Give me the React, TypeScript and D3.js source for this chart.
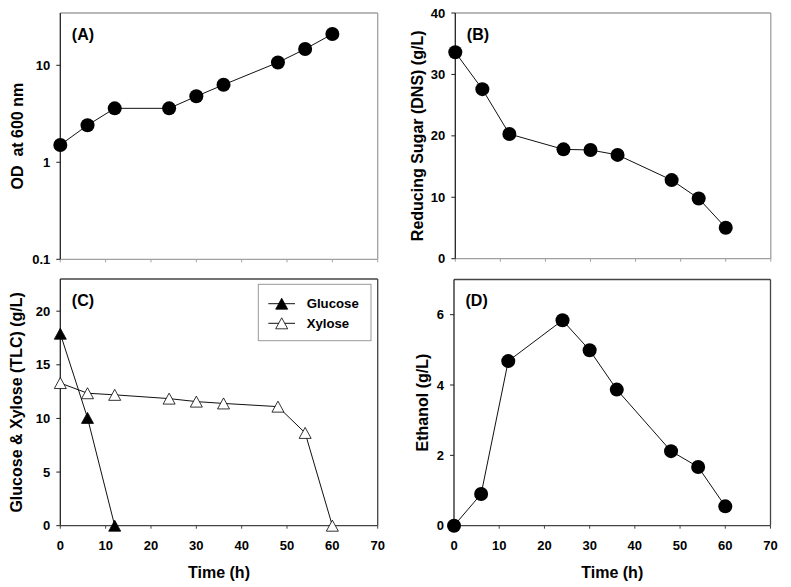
import React from "react";
import * as d3 from "d3";

const time = [0, 6, 12, 24, 30, 36, 48, 54, 60];
const od600 = [1.51, 2.41, 3.6, 3.6, 4.79, 6.3, 10.7, 14.7, 21];
const reducingSugar = [33.6, 27.6, 20.3, 17.8, 17.7, 16.9, 12.8, 9.8, 5.05];
const glucoseTime = [0, 6, 12];
const glucose = [17.9, 10.05, 0];
const xylose = [13.3, 12.35, 12.2, 11.85, 11.57, 11.4, 11.1, 8.65, 0];
const ethanol = [0, 0.9, 4.68, 5.84, 4.99, 3.87, 2.12, 1.67, 0.55];

const xTicks = [0, 10, 20, 30, 40, 50, 60, 70];
const odTicks = [0.1, 1, 10];
const sugarTicks = [0, 10, 20, 30, 40];
const tlcTicks = [0, 5, 10, 15, 20];
const ethanolTicks = [0, 2, 4, 6];

const FONT = "'Liberation Sans', Arial, sans-serif";

type PanelProps = {
  left: number;
  right: number;
  top: number;
  bottom: number;
  y: any;
  yTicks: number[];
  yLabel: string;
  yLabelX: number;
  panelLabel: string;
  showXLabels: boolean;
  axisDark: boolean;
  children: (x: any, y: any) => React.ReactNode;
};

function Panel(p: PanelProps) {
  const x = d3.scaleLinear().domain([0, 70]).range([p.left, p.right]);
  const y = p.y.range([p.bottom, p.top]);
  const leftCol = "#222";
  const otherCol = p.axisDark ? "#444" : "#a0a0a0";
  const cy = (p.top + p.bottom) / 2;
  return (
    <g>
      <line x1={p.left} x2={p.right} y1={p.top} y2={p.top} stroke={otherCol} strokeWidth={1.3} />
      <line x1={p.right} x2={p.right} y1={p.top} y2={p.bottom} stroke={otherCol} strokeWidth={1.3} />
      <line x1={p.left} x2={p.right} y1={p.bottom} y2={p.bottom} stroke={otherCol} strokeWidth={1.3} />
      <line x1={p.left} x2={p.left} y1={p.top} y2={p.bottom} stroke={leftCol} strokeWidth={1.3} />
      {xTicks.map((t) => (
        <g key={"xt" + t}>
          <line x1={x(t)} x2={x(t)} y1={p.bottom} y2={p.bottom + 3} stroke={otherCol} strokeWidth={1} />
          {p.showXLabels && (
            <text x={x(t)} y={p.bottom + 24.5} textAnchor="middle" fontFamily={FONT} fontWeight="bold" fontSize={13}>
              {t}
            </text>
          )}
        </g>
      ))}
      {p.yTicks.map((t) => (
        <g key={"yt" + t}>
          <line x1={p.left - 4} x2={p.left} y1={y(t)} y2={y(t)} stroke={leftCol} strokeWidth={1} />
          <text x={p.left - 10} y={y(t) + 4.6} textAnchor="end" fontFamily={FONT} fontWeight="bold" fontSize={13}>
            {t}
          </text>
        </g>
      ))}
      <text
        transform={`translate(${p.yLabelX},${cy}) rotate(-90)`}
        textAnchor="middle"
        dy="0.36em"
        fontFamily={FONT}
        fontWeight="bold"
        fontSize={16}
        style={{ whiteSpace: "pre" }}
      >
        {p.yLabel}
      </text>
      <text x={p.left + 11.5} y={p.top + 26.5} fontFamily={FONT} fontWeight="bold" fontSize={16}>
        {p.panelLabel}
      </text>
      {p.showXLabels && (
        <text x={(p.left + p.right) / 2} y={p.bottom + 52.5} textAnchor="middle" fontFamily={FONT} fontWeight="bold" fontSize={16}>
          Time (h)
        </text>
      )}
      {p.children(x, y)}
    </g>
  );
}

function triPath(w: number, h: number) {
  return `M0,${-h / 2}L${w / 2},${h / 2}L${-w / 2},${h / 2}Z`;
}

function CircleSeries({ x, y, xs, ys }: any) {
  const line = d3
    .line<number>()
    .x((_, i) => x(xs[i]))
    .y((d) => y(d));
  return (
    <g>
      <path d={line(ys) || ""} fill="none" stroke="#111" strokeWidth={1} />
      {ys.map((v: number, i: number) => (
        <circle key={i} cx={x(xs[i])} cy={y(v)} r={7} fill="#000" />
      ))}
    </g>
  );
}

function TriSeries({ x, y, xs, ys, filled }: any) {
  const line = d3
    .line<number>()
    .x((_, i) => x(xs[i]))
    .y((d) => y(d));
  return (
    <g>
      <path d={line(ys) || ""} fill="none" stroke="#111" strokeWidth={1} />
      {ys.map((v: number, i: number) => (
        <path
          key={i}
          d={triPath(12, 11)}
          transform={`translate(${x(xs[i])},${y(v)})`}
          fill={filled ? "#000" : "#fff"}
          stroke="#000"
          strokeWidth={0.8}
        />
      ))}
    </g>
  );
}

export default function App() {
  return (
    <div style={{ position: "fixed", left: 0, top: 0 }}>
      <svg width={791} height={587} style={{ display: "block", background: "#fff" }}>
        <rect width={791} height={587} fill="#fff" />
        <Panel
          left={60.3}
          right={377.7}
          top={13}
          bottom={259.3}
          y={d3.scaleLog().domain([0.1, 34.6])}
          yTicks={odTicks}
          yLabel="OD  at 600 nm"
          yLabelX={17}
          panelLabel="(A)"
          showXLabels={false}
          axisDark={false}
        >
          {(x, y) => <CircleSeries x={x} y={y} xs={time} ys={od600} />}
        </Panel>
        <Panel
          left={455.3}
          right={770.8}
          top={13}
          bottom={258.7}
          y={d3.scaleLinear().domain([0, 40])}
          yTicks={sugarTicks}
          yLabel="Reducing Sugar (DNS) (g/L)"
          yLabelX={417}
          panelLabel="(B)"
          showXLabels={false}
          axisDark={false}
        >
          {(x, y) => <CircleSeries x={x} y={y} xs={time} ys={reducingSugar} />}
        </Panel>
        <Panel
          left={60.3}
          right={377.7}
          top={279}
          bottom={525.7}
          y={d3.scaleLinear().domain([0, 23])}
          yTicks={tlcTicks}
          yLabel="Glucose & Xylose (TLC) (g/L)"
          yLabelX={16}
          panelLabel="(C)"
          showXLabels={true}
          axisDark={true}
        >
          {(x, y) => (
            <g>
              <TriSeries x={x} y={y} xs={glucoseTime} ys={glucose} filled={true} />
              <TriSeries x={x} y={y} xs={time} ys={xylose} filled={false} />
              <rect x={258.3} y={284.3} width={112.7} height={56.4} fill="#fff" stroke="#999" strokeWidth={1} />
              <line x1={268.3} x2={295} y1={303.7} y2={303.7} stroke="#111" strokeWidth={1} />
              <path d={triPath(12, 11)} transform="translate(281.7,303.7)" fill="#000" stroke="#000" strokeWidth={0.8} />
              <text x={306.7} y={308.3} fontFamily={FONT} fontWeight="bold" fontSize={13.2}>
                Glucose
              </text>
              <line x1={268.3} x2={295} y1={323.3} y2={323.3} stroke="#111" strokeWidth={1} />
              <path d={triPath(12, 11)} transform="translate(281.7,323.3)" fill="#fff" stroke="#000" strokeWidth={0.8} />
              <text x={306.7} y={327.9} fontFamily={FONT} fontWeight="bold" fontSize={13.2}>
                Xylose
              </text>
            </g>
          )}
        </Panel>
        <Panel
          left={454}
          right={770.5}
          top={279.5}
          bottom={525.7}
          y={d3.scaleLinear().domain([0, 7])}
          yTicks={ethanolTicks}
          yLabel="Ethanol (g/L)"
          yLabelX={422}
          panelLabel="(D)"
          showXLabels={true}
          axisDark={true}
        >
          {(x, y) => <CircleSeries x={x} y={y} xs={time} ys={ethanol} />}
        </Panel>
      </svg>
    </div>
  );
}
